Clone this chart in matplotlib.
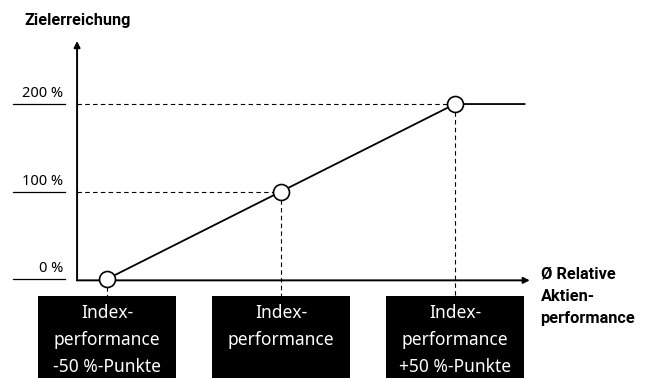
import matplotlib.pyplot as plt
from matplotlib.patches import Rectangle

# data
perf = [-50, 0, 50]            # relative performance (%-points vs index)
target = [0, 100, 200]         # Zielerreichung in %
cap_x = 70                     # flat line continues at 200 % up to here
ytick_vals = [0, 100, 200]
ytick_labels = ['0 %', '100 %', '200 %']
box_labels = ['Index-\nperformance\n-50 %-Punkte',
              'Index-\nperformance',
              'Index-\nperformance\n+50 %-Punkte']

plt.rcParams['font.family'] = ['Noto Sans', 'DejaVu Sans']
bold_font = ['Roboto', 'DejaVu Sans']

fig = plt.figure(figsize=(6.46, 3.78), dpi=100)
ax = fig.add_axes([0, 0, 1, 1])
# pixel mapping: x = 281 + 3.48*v, y = 279 - 0.875*t
ax.set_xlim(-80.75, 104.9)
ax.set_ylim(-113.1, 318.9)
ax.axis('off')

x_axis0 = -58.6
# axes with arrows
ax.annotate('', xy=(x_axis0, 272), xytext=(x_axis0, -1.5),
            arrowprops=dict(arrowstyle='-|>', color='black', lw=1.4,
                            mutation_scale=9, shrinkA=0, shrinkB=0))
ax.annotate('', xy=(71.5, -1.5), xytext=(x_axis0, -1.5),
            arrowprops=dict(arrowstyle='-|>', color='black', lw=1.4,
                            mutation_scale=9, shrinkA=0, shrinkB=0))

# y labels with underline
for v, lab in zip(ytick_vals, ytick_labels):
    ax.plot([-77.0, -62.1], [v, v], color='black', lw=0.9)
    ax.text(-62.5, v + 3, lab, ha='right', va='bottom', fontsize=10.5)

# dashed helper lines
for px, t in zip(perf[1:], target[1:]):
    ax.plot([x_axis0, px], [t, t], color='black', lw=0.8, ls=(0, (4, 3)))
for px, t in zip(perf, target):
    ax.plot([px, px], [t, -19.4], color='black', lw=0.8, ls=(0, (4, 3)))

# main curve
ax.plot(perf + [cap_x], target + [target[-1]], color='black', lw=1.3, zorder=3)
ax.plot(perf, target, ls='none', marker='o', ms=11.5, mfc='white',
        mec='black', mew=1.2, zorder=4)

# black label boxes
for px, lab in zip(perf, box_labels):
    ax.add_patch(Rectangle((px - 19.7, -130), 39.4, 110.6,
                           facecolor='black', edgecolor='none', zorder=5))
    ax.text(px, -69.7 + (0 if lab.count('\n') == 2 else 15.4), lab,
            ha='center', va='center', color='white', fontsize=12.5,
            linespacing=1.67, zorder=6)

ax.text(-73.8, 296, 'Zielerreichung', ha='left', va='center',
        fontsize=11.7, fontweight='bold', family=bold_font)
ax.text(74.6, -19.5, 'Ø Relative\nAktien-\nperformance', ha='left',
        va='center', fontsize=11.8, fontweight='bold', linespacing=1.6,
        family=bold_font)

fig.savefig('out.png', dpi=100)
